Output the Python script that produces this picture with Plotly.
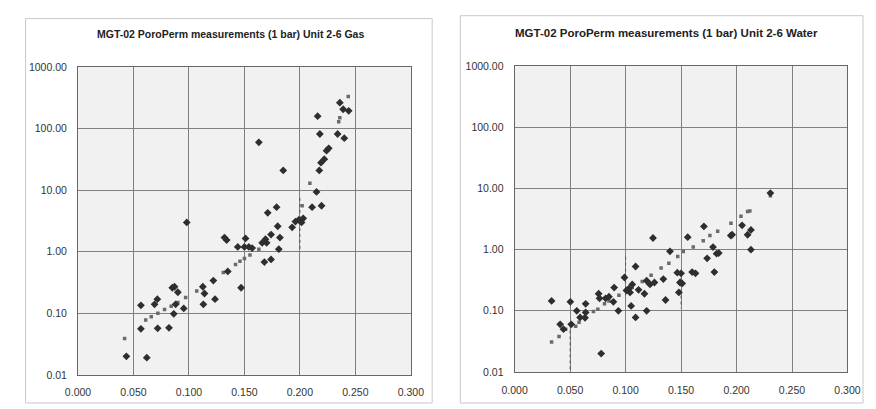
import plotly.graph_objects as go

# ---- Unit 2-6 Gas: measured porosity (fraction) vs permeability (mD) ----
gas_poro = [0.0436, 0.062, 0.0567, 0.0567, 0.069, 0.0715, 0.0718, 0.082, 0.085, 0.087,
            0.090, 0.0863, 0.088, 0.0953, 0.098, 0.1125, 0.114, 0.113, 0.122, 0.1235,
            0.132, 0.134, 0.135, 0.144, 0.147, 0.151, 0.150, 0.154, 0.157, 0.163,
            0.168, 0.174, 0.171, 0.179, 0.169, 0.170, 0.166, 0.174, 0.180, 0.181,
            0.182, 0.185, 0.193, 0.196, 0.199, 0.2015, 0.203, 0.211, 0.215, 0.2195,
            0.216, 0.218, 0.2175, 0.219, 0.222, 0.224, 0.226, 0.234, 0.236, 0.239,
            0.240, 0.244]
gas_perm = [0.020, 0.019, 0.135, 0.056, 0.14, 0.17, 0.057, 0.058, 0.26, 0.27,
            0.22, 0.098, 0.14, 0.12, 3.0, 0.27, 0.21, 0.14, 0.34, 0.17,
            1.7, 1.55, 0.48, 1.2, 0.26, 1.65, 1.2, 1.2, 1.15, 60.0,
            0.68, 0.75, 4.3, 5.3, 1.6, 1.4, 1.4, 1.9, 2.6, 1.1,
            1.7, 21.0, 2.5, 3.1, 3.3, 3.0, 3.5, 5.3, 9.4, 5.6,
            160.0, 82.0, 21.0, 28.0, 32.0, 44.0, 48.0, 82.0, 265.0, 207.0,
            70.0, 195.0]

# Secondary (fine) readings, Gas
gas_fine_poro = [0.042, 0.061, 0.066, 0.072, 0.078, 0.084, 0.090, 0.097, 0.107, 0.131,
                 0.142, 0.146, 0.150, 0.155, 0.163, 0.202, 0.209, 0.235, 0.236, 0.2436]
gas_fine_perm = [0.039, 0.078, 0.088, 0.10, 0.115, 0.13, 0.15, 0.18, 0.23, 0.46,
                 0.62, 0.70, 0.78, 0.89, 1.1, 5.6, 13.0, 130.0, 150.0, 335.0]

# Stacked repeat readings at one porosity (drawn as a dotted column)
gas_col_poro = [0.200, 0.200]
gas_col_perm = [7.5, 1.0]

# ---- Unit 2-6 Water ----
wat_poro = [0.0333, 0.0502, 0.041, 0.044, 0.051, 0.056, 0.059, 0.064, 0.064, 0.0634,
            0.0757, 0.078, 0.0765, 0.082, 0.085, 0.0897, 0.089, 0.0935, 0.099, 0.1008,
            0.103, 0.104, 0.105, 0.106, 0.109, 0.109, 0.1117, 0.117, 0.119, 0.119,
            0.122, 0.1247, 0.126, 0.134, 0.136, 0.140, 0.1466, 0.148, 0.149, 0.150,
            0.151, 0.156, 0.160, 0.163, 0.1706, 0.1735, 0.1788, 0.180, 0.182, 0.184,
            0.1948, 0.196, 0.205, 0.210, 0.213, 0.213, 0.2305]
wat_perm = [0.145, 0.14, 0.06, 0.05, 0.06, 0.10, 0.078, 0.13, 0.094, 0.077,
            0.19, 0.020, 0.16, 0.16, 0.17, 0.24, 0.14, 0.10, 0.35, 0.215,
            0.23, 0.20, 0.12, 0.27, 0.53, 0.078, 0.22, 0.19, 0.10, 0.31,
            0.27, 1.55, 0.29, 0.33, 0.15, 0.94, 0.42, 0.20, 0.29, 0.41,
            0.28, 1.6, 0.43, 0.41, 2.4, 0.72, 1.1, 0.43, 0.86, 0.88,
            1.7, 1.75, 2.5, 1.75, 2.1, 1.0, 8.4]

wat_fine_poro = [0.0333, 0.040, 0.046, 0.055, 0.058, 0.071, 0.075, 0.081, 0.085, 0.094,
                 0.100, 0.106, 0.115, 0.123, 0.132, 0.139, 0.147, 0.152, 0.161, 0.170,
                 0.176, 0.183, 0.195, 0.204, 0.210, 0.212, 0.2305]
wat_fine_perm = [0.031, 0.038, 0.050, 0.056, 0.065, 0.097, 0.106, 0.13, 0.145, 0.18,
                 0.215, 0.24, 0.30, 0.38, 0.50, 0.60, 0.77, 0.93, 1.1, 1.4,
                 1.7, 2.0, 2.7, 3.5, 4.2, 4.3, 7.6]

wat_col_poro = [0.050, 0.050, None, 0.100, 0.100, None, 0.150, 0.150]
wat_col_perm = [0.06, 0.01, None, 0.77, 0.17, None, 0.35, 0.11]

titles = ["MGT-02 PoroPerm measurements (1 bar) Unit 2-6 Gas",
          "MGT-02 PoroPerm measurements (1 bar) Unit 2-6 Water"]
y_tickvals = [0.01, 0.1, 1, 10, 100, 1000]
y_ticktext = ["0.01", "0.10", "1.00", "10.00", "100.00", "1000.00"]
x_tickvals = [0.0, 0.05, 0.10, 0.15, 0.20, 0.25, 0.30]
x_ticktext = ["0.000", "0.050", "0.100", "0.150", "0.200", "0.250", "0.300"]

W, H = 876, 409
FONT = "Liberation Sans, Arial, sans-serif"
MARK = "#2e2e2e"
FINE = "#6a6a6a"
GRID = "#808080"

fig = go.Figure()

panels = [
    dict(xa="x", ya="y", main=(gas_poro, gas_perm), fine=(gas_fine_poro, gas_fine_perm),
         col=(gas_col_poro, gas_col_perm)),
    dict(xa="x2", ya="y2", main=(wat_poro, wat_perm), fine=(wat_fine_poro, wat_fine_perm),
         col=(wat_col_poro, wat_col_perm)),
]

for p in panels:
    fig.add_trace(go.Scatter(x=p["col"][0], y=p["col"][1], mode="lines",
                             line=dict(color="#555555", width=1, dash="dot"),
                             xaxis=p["xa"], yaxis=p["ya"], showlegend=False, hoverinfo="skip"))
    fig.add_trace(go.Scatter(x=p["fine"][0], y=p["fine"][1], mode="markers",
                             marker=dict(symbol="square", size=3.5, color=FINE),
                             xaxis=p["xa"], yaxis=p["ya"], showlegend=False))
    fig.add_trace(go.Scatter(x=p["main"][0], y=p["main"][1], mode="markers",
                             marker=dict(symbol="diamond", size=6, color=MARK),
                             xaxis=p["xa"], yaxis=p["ya"], showlegend=False))

# plot-area pixel boxes: (left, right, top, bottom)
boxes = [(67, 410, 63, 380), (517, 860, 62, 377)]
tick_sizes = [10.5, 10.5]
title_sizes = [10.5, 11.5]

def px_dom_x(a, b):
    return [a / W, b / W]

def px_dom_y(top, bottom):
    return [1 - bottom / H, 1 - top / H]

axis_common = dict(showgrid=True, gridcolor=GRID, gridwidth=1, zeroline=False,
                   showline=True, linecolor="#666666", linewidth=1, mirror=True,
                   ticks="")

for i, (l, r, t, b) in enumerate(boxes):
    sfx = "" if i == 0 else str(i + 1)
    fig.update_layout(**{
        "xaxis" + sfx: dict(axis_common, domain=px_dom_x(l, r), range=[0, 0.3],
                            tickvals=x_tickvals, ticktext=x_ticktext,
                            anchor="y" + sfx, ticklabelstandoff=8,
                            tickfont=dict(family=FONT, size=tick_sizes[i], color="#333333")),
        "yaxis" + sfx: dict(axis_common, domain=px_dom_y(t, b), type="log", range=[-2, 3],
                            tickvals=y_tickvals, ticktext=y_ticktext,
                            anchor="x" + sfx, ticklabelstandoff=8,
                            tickfont=dict(family=FONT, size=tick_sizes[i], color="#333333")),
    })

# chart frames
frames = [(13, 432, 13, 409), (461, 876, 10, 409)]
for (l, r, t, b) in frames:
    fig.add_shape(type="rect", xref="paper", yref="paper",
                  x0=l / W, x1=r / W, y0=1 - b / H, y1=1 - t / H,
                  line=dict(color="#c8c8c8", width=1), layer="below")

title_pos = [(224, 29), (673, 28)]
for i, (tx, ty) in enumerate(title_pos):
    fig.add_annotation(x=tx / W, y=1 - ty / H, xref="paper", yref="paper",
                       text="<b>%s</b>" % titles[i], showarrow=False,
                       xanchor="center", yanchor="middle",
                       font=dict(family=FONT, size=title_sizes[i], color="#222222"))

fig.update_layout(width=W, height=H, margin=dict(l=0, r=0, t=0, b=0),
                  paper_bgcolor="white", plot_bgcolor="#f1f1f1", showlegend=False)

fig.write_html("out.html")
